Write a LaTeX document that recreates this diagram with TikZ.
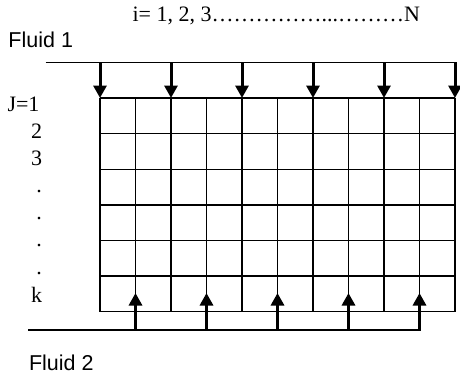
\documentclass[tikz,border=0pt]{standalone}
\usepackage{fontspec}
\setmainfont{Liberation Serif}
\newfontfamily\arialfont{Liberation Sans}
\usetikzlibrary{arrows.meta}
\begin{document}
\begin{tikzpicture}[x=1pt,y=-1pt,
  lbl/.style={inner sep=0pt,outer sep=0pt,anchor=base west,font=\fontsize{22}{26}\selectfont},
  sanslbl/.style={inner sep=0pt,outer sep=0pt,anchor=base west,font=\arialfont\fontsize{21.5}{26}\selectfont},
  dotlbl/.style={inner sep=0pt,outer sep=0pt,anchor=base,font=\fontsize{22}{26}\selectfont},
  gridline/.style={line width=1.4pt},
  feedline/.style={line width=1.5pt},
  flowarrow/.style={line width=3pt,-{Triangle[width=13pt,length=12.5pt]}}]
\useasboundingbox (0,0) rectangle (460,378);
% labels
\node[lbl] (itext) at (132.5,21.7) {i= 1, 2, 3……………...………N};
\node[sanslbl] (fluid1) at (8.5,47.7) {Fluid 1};
\node[sanslbl] (fluid2) at (29,370.7) {Fluid 2};
\node[lbl] (j1) at (7.5,111.7) {J=1};
\node[lbl] (j2) at (31,138.3) {2};
\node[lbl] (j3) at (31,165) {3};
\node[dotlbl] (d1) at (39,192) {.};
\node[dotlbl] (d2) at (39,219) {.};
\node[dotlbl] (d3) at (39,246) {.};
\node[dotlbl] (d4) at (39,274) {.};
\node[lbl] (jk) at (31,302) {k};
% grid
\foreach \i in {0,...,10}
  \draw[gridline] (100+35.5*\i,98) -- (100+35.5*\i,311.6);
\foreach \j in {0,...,6}
  \draw[gridline] (100,98+35.6*\j) -- (455,98+35.6*\j);
% feed lines
\coordinate (topL) at (45.7,62.3);
\coordinate (topR) at (456.5,62.3);
\coordinate (botL) at (28,330);
\coordinate (botR) at (420.5,330);
\draw[feedline] (topL) -- (topR);
\draw[feedline] (botL) -- (botR);
% down arrows (Fluid 1)
\foreach \k in {0,...,5} {
  \coordinate (ds\k) at (100+71*\k,62.3);
  \coordinate (de\k) at (100+71*\k,98);
  \draw[flowarrow] (ds\k) -- (de\k);
}
% up arrows (Fluid 2)
\foreach \k in {0,...,4} {
  \coordinate (us\k) at (135.5+71*\k,330);
  \coordinate (ue\k) at (135.5+71*\k,293);
  \draw[flowarrow] (us\k) -- (ue\k);
}
\end{tikzpicture}
\end{document}
